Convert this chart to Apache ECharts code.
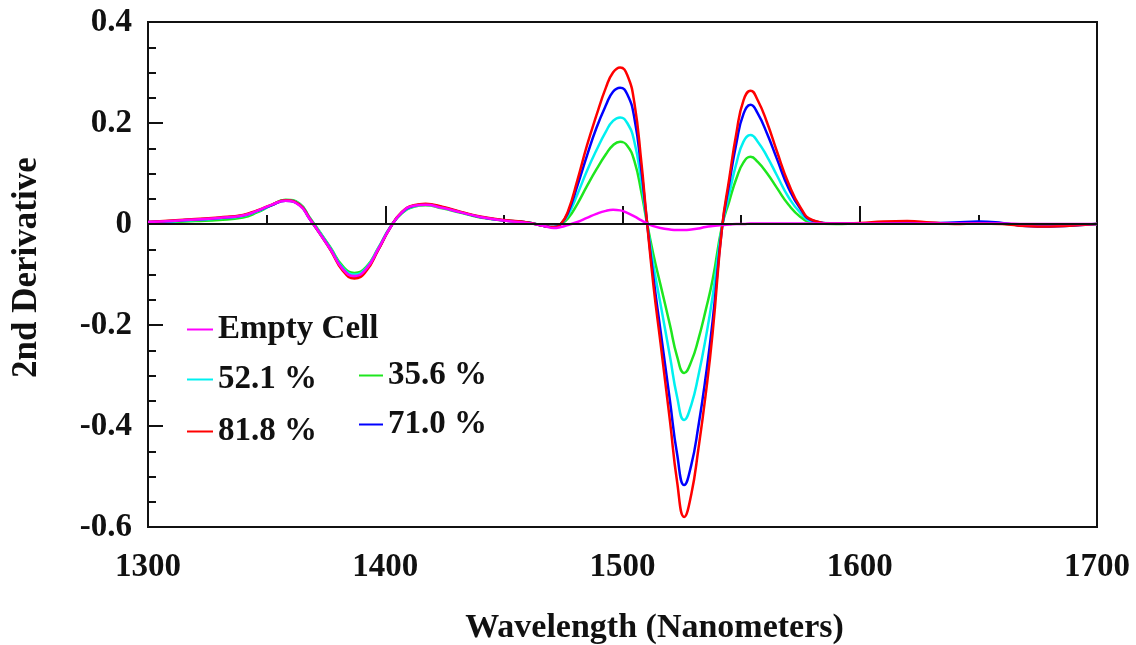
<!DOCTYPE html>
<html>
	<head>
		<meta charset="UTF-8">
		<title>2nd Derivative</title>
		<script src="https://cdn.jsdelivr.net/npm/echarts@6/dist/echarts.min.js"></script>
	</head>
	<body style="margin:0;">

		<div id="main" style="width: 1136px;height:645px;"></div>
		<script type="text/javascript">

		var wavelength = [
			1300,1310,1320,1330,1340,1346,1352,1358,1364,1368,
			1372,1377,1382,1387,1392,1397,1402,1407,1412,1417,
			1424,1432,1440,1450,1460,1467,1471,1474,1477,1481,
			1485,1489,1493,1496,1499,1502,1505,1508,1510,1513,
			1516,1520,1523,1526,1529,1532,1535,1538,1542,1545,
			1548,1551,1554,1557,1561,1565,1570,1575,1580,1590,
			1600,1610,1620,1630,1640,1650,1660,1670,1680,1690,
			1700
		];

		var emptyCell = [
			0.004,0.006,0.009,0.012,0.017,0.026,0.038,0.046,0.036,0.011,
			-0.016,-0.051,-0.089,-0.103,-0.089,-0.050,-0.008,0.023,0.036,0.038,
			0.032,0.023,0.014,0.007,0.002,-0.004,-0.008,-0.006,-0.002,0.004,
			0.012,0.020,0.026,0.028,0.027,0.022,0.015,0.007,0.002,-0.004,
			-0.008,-0.011,-0.012,-0.012,-0.011,-0.009,-0.006,-0.004,-0.002,-0.001,
			0.000,0.000,0.001,0.001,0.001,0.001,0.001,0.001,0.001,0.001,
			0.001,0.001,0.001,0.001,0.001,0.001,0.001,0.000,0.000,0.000,
			0.000
		];
		var p521 = [
			0.003,0.005,0.008,0.011,0.016,0.025,0.037,0.047,0.039,0.013,
			-0.014,-0.049,-0.086,-0.100,-0.087,-0.049,-0.007,0.022,0.035,0.038,
			0.032,0.023,0.014,0.007,0.003,-0.004,-0.006,0.000,0.017,0.059,
			0.105,0.146,0.183,0.204,0.211,0.200,0.163,0.082,0.014,-0.080,
			-0.158,-0.262,-0.342,-0.388,-0.358,-0.300,-0.228,-0.143,-0.004,0.060,
			0.120,0.163,0.176,0.163,0.133,0.097,0.053,0.022,0.005,0.001,
			0.001,0.002,0.002,0.001,0.002,0.004,0.001,-0.003,-0.004,-0.002,
			0.000
		];
		var p356 = [
			0.003,0.004,0.006,0.008,0.013,0.023,0.037,0.048,0.040,0.014,
			-0.013,-0.047,-0.083,-0.097,-0.085,-0.048,-0.007,0.021,0.034,0.037,
			0.031,0.022,0.013,0.007,0.003,-0.004,-0.006,0.000,0.011,0.040,
			0.075,0.108,0.138,0.156,0.163,0.155,0.125,0.062,0.010,-0.060,
			-0.120,-0.200,-0.262,-0.295,-0.272,-0.228,-0.172,-0.110,-0.003,0.045,
			0.090,0.122,0.133,0.123,0.100,0.072,0.038,0.014,0.003,0.000,
			0.001,0.001,0.002,0.001,0.001,0.002,0.001,-0.003,-0.004,-0.002,
			0.000
		];
		var p818 = [
			0.004,0.007,0.010,0.013,0.018,0.027,0.038,0.047,0.038,0.012,
			-0.016,-0.052,-0.092,-0.108,-0.093,-0.052,-0.008,0.024,0.037,0.040,
			0.034,0.024,0.015,0.008,0.003,-0.004,-0.006,0.000,0.025,0.087,
			0.155,0.215,0.270,0.300,0.310,0.295,0.240,0.120,0.020,-0.120,
			-0.235,-0.390,-0.510,-0.580,-0.535,-0.445,-0.340,-0.215,-0.005,0.090,
			0.180,0.245,0.264,0.245,0.200,0.145,0.080,0.033,0.008,0.001,
			0.002,0.005,0.006,0.003,0.000,0.001,0.000,-0.004,-0.005,-0.003,
			0.000
		];
		var p710 = [
			0.004,0.006,0.009,0.012,0.017,0.026,0.037,0.046,0.037,0.011,
			-0.016,-0.051,-0.089,-0.104,-0.090,-0.051,-0.008,0.023,0.036,0.039,
			0.033,0.023,0.014,0.007,0.003,-0.004,-0.006,0.000,0.022,0.076,
			0.135,0.190,0.235,0.262,0.270,0.257,0.210,0.105,0.018,-0.105,
			-0.210,-0.350,-0.455,-0.517,-0.477,-0.400,-0.305,-0.192,-0.006,0.080,
			0.160,0.218,0.236,0.219,0.178,0.130,0.071,0.030,0.007,0.001,
			0.001,0.002,0.002,0.002,0.003,0.005,0.002,-0.004,-0.005,-0.003,
			0.000
		];

		var font = 'Liberation Serif';

		function pairs(vals){
			var out = [];
			for (var i=0; i<wavelength.length; i++) {
				out.push([wavelength[i], vals[i]]);
			}
			return out;
		}

		function line(name, color, vals){
			return {
				name : name,
				type : 'line',
				data : pairs(vals),
				smooth : true,
				showSymbol : false,
				color : color,
				lineStyle : { color : color, width : 2.5 }
			};
		}

		var legendText = { fontFamily : font, fontWeight : 'bold', fontSize : 33, color : '#111' };
		var legendBase = { padding : 0, icon : 'rect', itemWidth : 26, itemHeight : 2, textStyle : legendText };

		var myChart = echarts.init(document.getElementById('main'));
		var option = {
			animation : false,
			backgroundColor : '#fff',
			grid : {
				left : 148, right : 39, top : 22, bottom : 118,
				outerBoundsMode : 'none',
				show : true, borderColor : '#111', borderWidth : 2
			},
			legend : [
				Object.assign({}, legendBase, { data : [ 'Empty Cell' ], left : 187, top : 313 }),
				Object.assign({}, legendBase, { data : [ '52.1 %', '81.8 %' ], orient : 'vertical', left : 187, top : 363, itemGap : 19 }),
				Object.assign({}, legendBase, { data : [ '35.6 %', '71.0 %' ], orient : 'vertical', left : 359, top : 359, itemGap : 16, itemWidth : 24 })
			],
			graphic : [ {
				type : 'text',
				x : 9, y : 378,
				rotation : Math.PI / 2,
				style : {
					text : '2nd Derivative',
					fontFamily : font, fontWeight : 'bold', fontSize : 35, fill : '#111'
				}
			} ],
			xAxis : {
				type : 'value',
				min : 1300, max : 1700, interval : 100,
				name : 'Wavelength (Nanometers)',
				nameLocation : 'middle',
				nameGap : 84,
				nameTextStyle : { fontFamily : font, fontWeight : 'bold', fontSize : 34, color : '#111', padding : [0, 0, 0, 64] },
				axisLine : { lineStyle : { color : '#111', width : 2 } },
				axisTick : { inside : true, length : 18, lineStyle : { color : '#111', width : 2 } },
				minorTick : { show : true, splitNumber : 2, length : 9, lineStyle : { color : '#111', width : 2 } },
				splitLine : { show : false },
				axisLabel : {
					margin : 24, fontFamily : font, fontWeight : 'bold', fontSize : 33, color : '#111',
					formatter : function(v){ return String(v); }
				}
			},
			yAxis : {
				type : 'value',
				min : -0.6, max : 0.4, interval : 0.2,
				axisLine : { show : true, lineStyle : { color : '#111', width : 2 } },
				axisTick : { inside : true, length : 15, lineStyle : { color : '#111', width : 2 } },
				minorTick : { show : true, splitNumber : 4, length : 8, lineStyle : { color : '#111', width : 2 } },
				splitLine : { show : false },
				axisLabel : {
					margin : 16, fontFamily : font, fontWeight : 'bold', fontSize : 33, color : '#111',
					formatter : function(v){ return Math.abs(v) < 1e-9 ? '0' : String(Math.round(v*10)/10); }
				}
			},
			series : [
				line('35.6 %', '#1ee61e', p356),
				line('52.1 %', '#00f0f0', p521),
				line('71.0 %', '#0000ff', p710),
				line('81.8 %', '#ff0000', p818),
				line('Empty Cell', '#ff00ff', emptyCell)
			]
		};
		// zero line
		option.series[0].markLine = {
			silent : true, symbol : 'none', label : { show : false },
			lineStyle : { color : '#111', width : 2, type : 'solid' },
			data : [ { yAxis : 0 } ]
		};
		myChart.setOption(option);

	</script>

	</body>
</html>
